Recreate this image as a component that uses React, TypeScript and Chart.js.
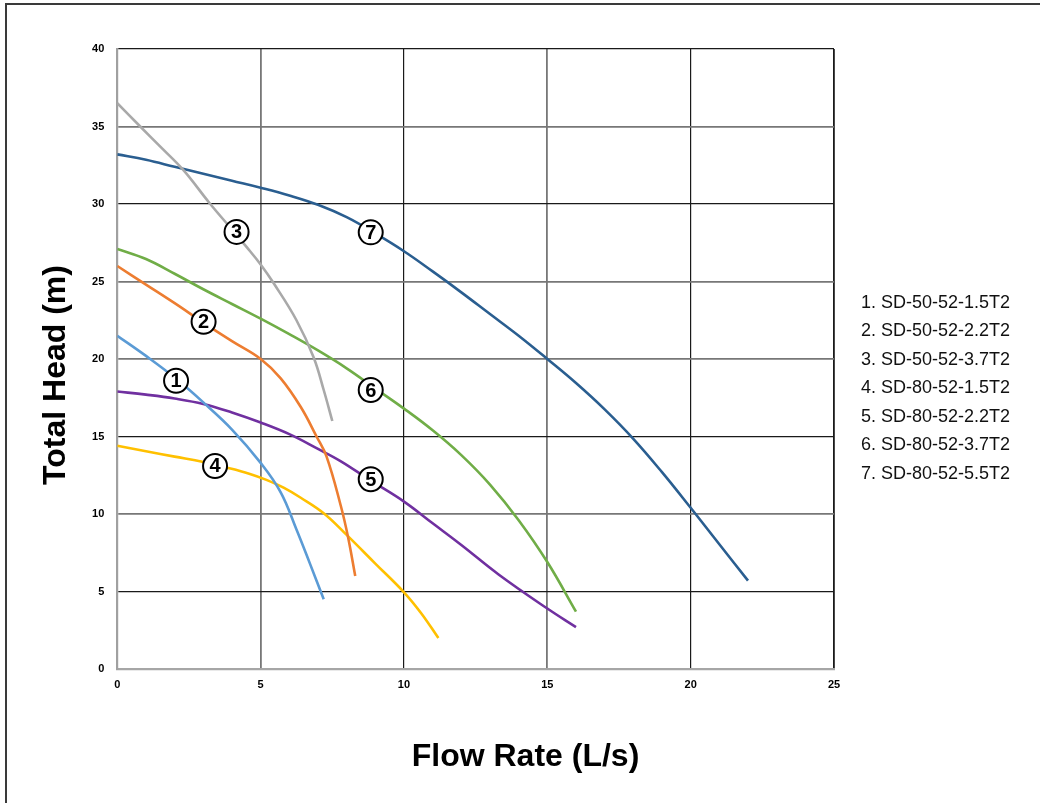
import React, { useEffect, useRef } from "react";
import { Chart, registerables } from "chart.js";

Chart.register(...registerables);

// ---- data ----
const seriesNames = [
  "1. SD-50-52-1.5T2",
  "2. SD-50-52-2.2T2",
  "3. SD-50-52-3.7T2",
  "4. SD-80-52-1.5T2",
  "5. SD-80-52-2.2T2",
  "6. SD-80-52-3.7T2",
  "7. SD-80-52-5.5T2",
];
const seriesNumbers = ["1", "2", "3", "4", "5", "6", "7"];

const flow1 = [0, 1, 2, 3, 4, 5, 5.7, 6.25, 6.72, 7.2];
const head1 = [21.5, 20.2, 18.8, 17.2, 15.45, 13.3, 11.4, 9.0, 6.8, 4.5];

const flow2 = [0, 1, 2, 3, 4, 5, 5.7, 6.4, 6.95, 7.3, 7.8, 8.05, 8.3];
const head2 = [26, 24.8, 23.6, 22.35, 21.15, 20.0, 18.75, 16.9, 15.0, 13.7, 10.5, 8.5, 6.0];

const flow3 = [0, 0.8, 1.5, 2.3, 3.2, 4.0, 4.5, 5.0, 5.45, 6.25, 6.85, 7.2, 7.5];
const head3 = [36.5, 35.0, 33.7, 32.2, 30.1, 28.35, 27.25, 26.1, 24.9, 22.5, 20.1, 18.0, 16.0];

const flow4 = [0, 1, 2, 3, 3.8, 4.6, 5.2, 5.8, 6.4, 7.2, 8.0, 9.0, 10.0, 10.6, 11.2];
const head4 = [14.4, 14.05, 13.7, 13.35, 13.0, 12.6, 12.2, 11.7, 11.05, 10.05, 8.65, 6.8, 4.95, 3.6, 2.0];

const flow5 = [0, 1, 2, 3, 4, 5, 6, 7, 7.8, 8.8, 10, 11, 12, 13.3, 15, 16];
const head5 = [17.9, 17.7, 17.45, 17.1, 16.55, 15.9, 15.15, 14.2, 13.4, 12.2, 10.8, 9.4, 8.0, 6.1, 3.9, 2.7];

const flow6 = [0, 1, 2, 3, 4, 5, 6, 7, 8, 9, 10, 11, 12, 13, 14, 15, 16];
const head6 = [27.1, 26.45, 25.5, 24.5, 23.55, 22.6, 21.6, 20.55, 19.4, 18.1, 16.8, 15.4, 13.8, 11.9, 9.6, 6.9, 3.7];

const flow7 = [0, 1, 2, 3, 4, 5, 6, 7, 8, 9, 10, 11, 12, 13, 14, 15, 16, 17, 18, 19, 20, 21, 22];
const head7 = [33.2, 32.85, 32.4, 31.95, 31.5, 31.05, 30.55, 29.95, 29.15, 28.1, 26.95, 25.65, 24.3, 22.9, 21.5, 20.0, 18.45, 16.75, 14.85, 12.7, 10.4, 8.05, 5.7];

const labelFlow = [2.05, 3.01, 4.16, 3.41, 8.84, 8.84, 8.84];
const labelHead = [18.6, 22.4, 28.2, 13.1, 12.24, 18.0, 28.17];

const xTitle = "Flow Rate (L/s)";
const yTitle = "Total Head (m)";
const xMin = 0, xMax = 25, xStep = 5;
const yMin = 0, yMax = 40, yStep = 5;

// ---- styles ----
const colors = ["#5B9BD5", "#ED7D31", "#A9A9A9", "#FFC000", "#7030A0", "#70AD47", "#2A5E90"];
const FONT = "'Liberation Sans', Arial, Helvetica, sans-serif";

const flows = [flow1, flow2, flow3, flow4, flow5, flow6, flow7];
const heads = [head1, head2, head3, head4, head5, head6, head7];

const BLACK = "#1a1a1a";
const GRAY = "#777777";
const xGridColors = ["rgba(0,0,0,0)", GRAY, BLACK, GRAY, BLACK, BLACK];
const xGridWidths = [1, 1.8, 1.2, 1.8, 1.2, 1.8];
const yGridColors = ["rgba(0,0,0,0)", BLACK, GRAY, BLACK, GRAY, GRAY, BLACK, GRAY, BLACK];
const yGridWidths = [1, 1.2, 1.8, 1.2, 1.8, 1.8, 1.2, 1.8, 1.2];

const circleLabels = {
  id: "circleLabels",
  afterDatasetsDraw(chart: any) {
    const { ctx, scales } = chart;
    const xs = scales.x;
    const ys = scales.y;
    ctx.save();
    for (let i = 0; i < seriesNumbers.length; i++) {
      const px = xs.getPixelForValue(labelFlow[i]);
      const py = ys.getPixelForValue(labelHead[i]);
      ctx.beginPath();
      ctx.arc(px, py, 12, 0, Math.PI * 2);
      ctx.fillStyle = "#ffffff";
      ctx.fill();
      ctx.lineWidth = 2;
      ctx.strokeStyle = "#000000";
      ctx.stroke();
      ctx.fillStyle = "#000000";
      ctx.font = `bold 20px ${FONT}`;
      ctx.textAlign = "center";
      ctx.textBaseline = "middle";
      ctx.fillText(seriesNumbers[i], px, py + 1);
    }
    ctx.restore();
  },
};

export default function App() {
  const canvasRef = useRef<HTMLCanvasElement | null>(null);

  useEffect(() => {
    document.body.style.margin = "0";
    const canvas = canvasRef.current;
    if (!canvas) return;
    const datasets = flows.map((f, i) => ({
      label: seriesNames[i],
      data: f.map((x, j) => ({ x, y: heads[i][j] })),
      borderColor: colors[i],
      backgroundColor: colors[i],
      borderWidth: 2.6,
      pointRadius: 0,
      fill: false,
      tension: 0.4,
      borderCapStyle: "butt" as const,
    }));
    const chart = new Chart(canvas, {
      type: "line",
      data: { datasets },
      plugins: [circleLabels],
      options: {
        animation: false,
        responsive: false,
        maintainAspectRatio: false,
        layout: { padding: { left: 77.3, right: 206, top: 49, bottom: 104 } },
        plugins: {
          legend: { display: false },
          tooltip: { enabled: false },
          title: { display: false },
        },
        scales: {
          x: {
            type: "linear",
            min: xMin,
            max: xMax,
            afterFit: (s: any) => {
              s.height = 30;
            },
            ticks: {
              stepSize: xStep,
              padding: 9,
              color: "#000",
              font: { family: FONT, size: 11, weight: "bold" },
            },
            grid: {
              drawTicks: false,
              color: (c: any) => xGridColors[c.index] ?? BLACK,
              lineWidth: (c: any) => xGridWidths[c.index] ?? 1.2,
            },
            border: { display: true, color: "#A6A6A6", width: 2.2 },
          },
          y: {
            type: "linear",
            min: yMin,
            max: yMax,
            afterFit: (s: any) => {
              s.width = 40;
            },
            ticks: {
              stepSize: yStep,
              padding: 13,
              color: "#000",
              font: { family: FONT, size: 11, weight: "bold" },
            },
            grid: {
              drawTicks: false,
              color: (c: any) => yGridColors[c.index] ?? BLACK,
              lineWidth: (c: any) => yGridWidths[c.index] ?? 1.2,
            },
            border: { display: true, color: "#A0A0A0", width: 2.2 },
          },
        },
      },
    });
    return () => chart.destroy();
  }, []);

  return (
    <div
      style={{
        position: "absolute",
        left: 0,
        top: 0,
        width: 1040,
        height: 803,
        overflow: "hidden",
        background: "#ffffff",
        fontFamily: FONT,
      }}
    >
      <div
        style={{
          position: "absolute",
          left: 5,
          top: 3,
          width: 1100,
          height: 900,
          borderLeft: "2px solid #3a3a3a",
          borderTop: "2px solid #3a3a3a",
        }}
      />
      <canvas
        ref={canvasRef}
        width={1040}
        height={803}
        style={{ position: "absolute", left: 0, top: 0, width: 1040, height: 803 }}
      />
      <div
        style={{
          position: "absolute",
          left: 53.9 - 200,
          top: 374.5 - 16,
          width: 400,
          height: 32,
          lineHeight: "32px",
          fontSize: 32,
          fontWeight: "bold",
          textAlign: "center",
          color: "#000",
          transform: "rotate(-90deg)",
          whiteSpace: "nowrap",
        }}
      >
        {yTitle}
      </div>
      <div
        style={{
          position: "absolute",
          left: 525.5 - 200,
          top: 739,
          width: 400,
          height: 32,
          lineHeight: "32px",
          fontSize: 32,
          fontWeight: "bold",
          textAlign: "center",
          color: "#000",
          whiteSpace: "nowrap",
        }}
      >
        {xTitle}
      </div>
      <div style={{ position: "absolute", left: 861, top: 302 - 14.25 }}>
        {seriesNames.map((n) => (
          <div
            key={n}
            style={{ height: 28.5, lineHeight: "28.5px", fontSize: 18, color: "#111", whiteSpace: "nowrap" }}
          >
            {n}
          </div>
        ))}
      </div>
    </div>
  );
}
